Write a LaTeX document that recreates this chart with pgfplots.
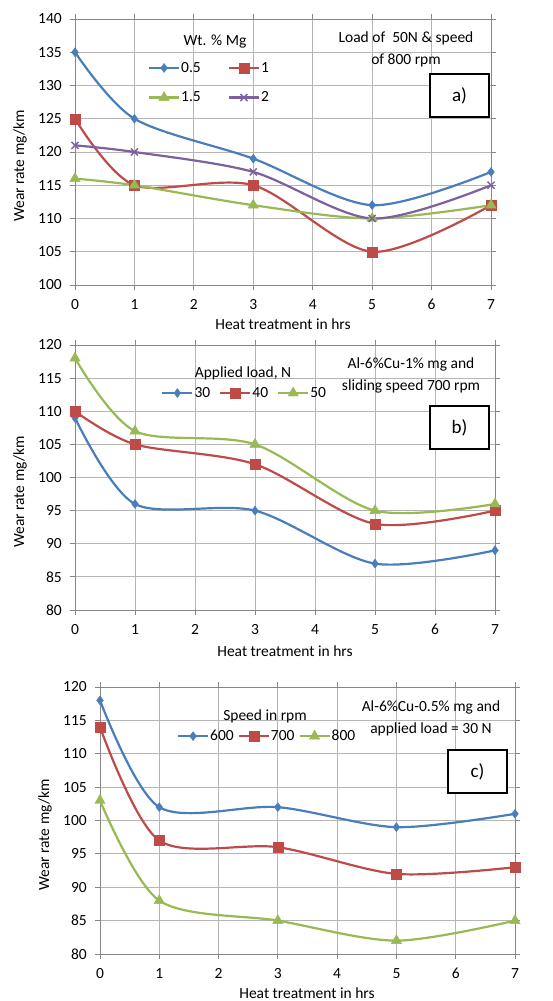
\documentclass[border=0pt]{standalone}
\usepackage{fontspec}
\setmainfont{Carlito}
\usepackage{pgfplots}
\pgfplotsset{compat=1.18}

\definecolor{xlblue}{HTML}{4A7EBB}
\definecolor{xlred}{HTML}{BE4B48}
\definecolor{xlgreen}{HTML}{98B954}
\definecolor{xlpurple}{HTML}{7D60A0}
\definecolor{gridgray}{HTML}{B5B5B5}
\definecolor{axgray}{HTML}{868686}

\newcommand{\fs}{\fontsize{15.5}{18}\selectfont}

\pgfplotsset{
  wear/.style={
    scale only axis,
    xmin=0, xmax=7, xtick={0,...,7}, ytick distance=5,
    grid=major, grid style={gridgray, line width=0.8pt},
    axis line style={axgray, line width=0.8pt},
    tick style={axgray, line width=0.8pt},
    tick align=outside, major tick length=5pt,
    ticklabel style={font=\fs},
    /pgf/number format/assume math mode=true,
    xticklabel style={anchor=north, inner sep=0pt, yshift=-9pt},
    yticklabel style={anchor=east, inner sep=0pt, xshift=-8pt},
    clip=false,
    legend cell align=left,
    legend style={draw=none, fill=none, font=\fs, anchor=north west,
      inner sep=0pt, nodes={inner sep=1pt}},
    legend image code/.code={
      \draw[mark repeat=2, mark phase=2] plot coordinates {(0pt,0pt) (15pt,0pt) (30pt,0pt)};},
  },
  s1/.style={xlblue, line width=2.2pt, smooth, mark=diamond*, mark size=4.5pt,
    mark options={solid, line width=0.4pt}},
  s2/.style={xlred, line width=2.2pt, smooth, mark=square*, mark size=5pt,
    mark options={solid, line width=0.4pt}},
  s3/.style={xlgreen, line width=2.2pt, smooth, mark=triangle*, mark size=6pt,
    mark options={solid, line width=0.4pt}},
  s4/.style={xlpurple, line width=2.2pt, smooth, mark=x, mark size=5pt,
    mark options={solid, line width=1.4pt}},
}

\begin{document}
\begin{tikzpicture}
\path[use as bounding box] (0pt,0pt) rectangle (553pt,1001pt);

% (a) wt. % Mg
\begin{axis}[wear, at={(75pt,716pt)}, anchor=south west,
  width=416pt, height=266pt, ymin=100, ymax=140,
  legend columns=2,
  legend style={at={(0.175,0.842)}, row sep=16pt,
    /tikz/every even column/.append style={column sep=26pt}}]
\addplot[s1] coordinates {(0,135) (1,125) (3,119) (5,112) (7,117)};
\addlegendentry{0.5}
\addplot[s2] coordinates {(0,125) (1,115) (3,115) (5,105) (7,112)};
\addlegendentry{1}
\addplot[s3] coordinates {(0,116) (1,115) (3,112) (5,110) (7,112)};
\addlegendentry{1.5}
\addplot[s4] coordinates {(0,121) (1,120) (3,117) (5,110) (7,115)};
\addlegendentry{2}
\end{axis}

% (b) applied load
\begin{axis}[wear, at={(75pt,391pt)}, anchor=south west,
  width=420pt, height=265pt, ymin=80, ymax=120,
  legend columns=3,
  legend style={at={(0.205,0.845)},
    /tikz/every even column/.append style={column sep=8pt}}]
\addplot[s1] coordinates {(0,109) (1,96) (3,95) (5,87) (7,89)};
\addlegendentry{30}
\addplot[s2] coordinates {(0,110) (1,105) (3,102) (5,93) (7,95)};
\addlegendentry{40}
\addplot[s3] coordinates {(0,118) (1,107) (3,105) (5,95) (7,96)};
\addlegendentry{50}
\end{axis}

% (c) speed
\begin{axis}[wear, at={(100pt,47pt)}, anchor=south west,
  width=415pt, height=267pt, ymin=80, ymax=120,
  legend columns=3,
  legend style={at={(0.185,0.843)},
    /tikz/every even column/.append style={column sep=3pt}}]
\addplot[s1] coordinates {(0,118) (1,102) (3,102) (5,99) (7,101)};
\addlegendentry{600}
\addplot[s2] coordinates {(0,114) (1,97) (3,96) (5,92) (7,93)};
\addlegendentry{700}
\addplot[s3] coordinates {(0,103) (1,88) (3,85) (5,82) (7,85)};
\addlegendentry{800}
\end{axis}

% axis titles
\begin{scope}[every node/.style={font=\fs}]
\node[rotate=90] at (20pt,835pt) {Wear rate mg/km};
\node at (283pt,677pt) {Heat treatment in hrs};
\node[rotate=90] at (20pt,509pt) {Wear rate mg/km};
\node at (285pt,350pt) {Heat treatment in hrs};
\node[rotate=90] at (45pt,166pt) {Wear rate mg/km};
\node at (307pt,8pt) {Heat treatment in hrs};

% legend titles
\node at (215pt,959pt) {Wt. \% Mg};
\node at (243pt,628pt) {Applied load, N};
\node at (265pt,285pt) {Speed in rpm};

% notes
\node[align=center, font=\fontsize{15.5}{22}\selectfont] at (406pt,952pt) {Load of\ \ 50N \& speed\\of 800 rpm};
\node[align=center, font=\fontsize{15.5}{22}\selectfont] at (411pt,626pt) {Al-6\%Cu-1\% mg and\\sliding speed 700 rpm};
\node[align=center, font=\fontsize{15.5}{22}\selectfont] at (431pt,283pt) {Al-6\%Cu-0.5\% mg and\\applied load = 30 N};
\end{scope}

% panel tags
\begin{scope}[every node/.style={draw=black, fill=white, line width=1.3pt,
    minimum width=59pt, minimum height=43pt, font=\fontsize{19}{22}\selectfont}]
\node at (459.5pt,905.5pt) {a)};
\node at (459.5pt,573.5pt) {b)};
\node at (477.5pt,229.5pt) {c)};
\end{scope}
\end{tikzpicture}
\end{document}
